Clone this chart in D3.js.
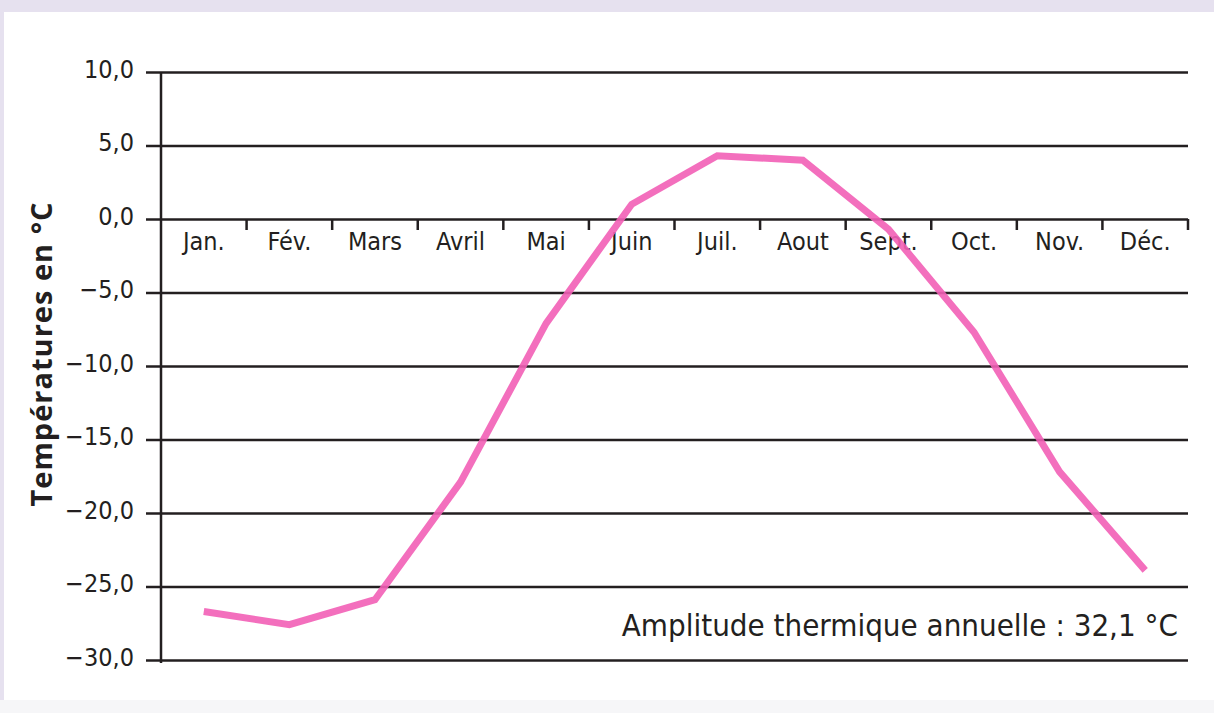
<!DOCTYPE html>
<html>
<head>
<meta charset="utf-8">
<script src="https://cdn.jsdelivr.net/npm/d3@7"></script>
<style>
  body { margin: 0; background: #e6e1ef; }
  svg { display: block; }
  .tick text { font-family: "DejaVu Sans Condensed", "Liberation Sans Narrow", sans-serif; fill: #231f20; }
</style>
</head>
<body>
<div id="chart"></div>
<script>
var months = ["Jan.", "Fév.", "Mars", "Avril", "Mai", "Juin", "Juil.", "Aout", "Sept.", "Oct.", "Nov.", "Déc."];
var temperatures = [-26.7, -27.6, -25.9, -17.9, -7.1, 1.0, 4.3, 4.0, -0.7, -7.7, -17.2, -23.9];
var yTicks = [10, 5, 0, -5, -10, -15, -20, -25, -30];
var amplitudeLabel = "Amplitude thermique annuelle : 32,1 °C";
var yTitle = "Températures en °C";

var width = 1214, height = 713;
var margin = {top: 72, right: 26, bottom: 53, left: 161};
var ink = "#231f20";
var font = '"DejaVu Sans Condensed", "Liberation Sans Narrow", sans-serif';

var svg = d3.select("#chart").append("svg")
  .attr("width", width)
  .attr("height", height);

// page strips: lavender frame, light strip at the bottom, white panel
svg.append("rect")
  .attr("x", 0).attr("y", 700)
  .attr("width", width).attr("height", 13)
  .attr("fill", "#f6f6f8");
svg.append("rect")
  .attr("x", 4).attr("y", 12)
  .attr("width", width - 4).attr("height", 688)
  .attr("fill", "#ffffff");

var x = d3.scaleBand()
  .domain(months)
  .range([margin.left, width - margin.right]);

var y = d3.scaleLinear()
  .domain([-30, 10])
  .range([height - margin.bottom, margin.top]);

var fmt = function (d) {
  return d3.format(".1f")(d).replace(".", ",").replace("-", "\u2212");
};

// horizontal grid lines with left ticks
var yAxis = svg.append("g")
  .attr("transform", "translate(" + margin.left + ",0)")
  .call(d3.axisLeft(y)
    .tickValues(yTicks)
    .tickSize(-(width - margin.left - margin.right))
    .tickPadding(27)
    .tickFormat(fmt));

yAxis.select(".domain").remove();
yAxis.selectAll(".tick line")
  .attr("x1", -15)
  .attr("stroke", ink)
  .attr("stroke-width", 2.5);
yAxis.selectAll(".tick text")
  .style("font-size", "25px")
  .attr("dy", "0.2em");

// vertical axis line
svg.append("line")
  .attr("x1", margin.left).attr("x2", margin.left)
  .attr("y1", y(10)).attr("y2", y(-30) + 3)
  .attr("stroke", ink)
  .attr("stroke-width", 2.5);

// month ticks hanging below the zero line
var boundaries = months.map(function (m) { return x(m) + x.bandwidth(); });
svg.append("g").selectAll("line")
  .data(boundaries)
  .join("line")
  .attr("x1", function (d) { return d; })
  .attr("x2", function (d) { return d; })
  .attr("y1", y(0))
  .attr("y2", y(0) + 11)
  .attr("stroke", ink)
  .attr("stroke-width", 2.5);

// month labels
svg.append("g").selectAll("text")
  .data(months)
  .join("text")
  .attr("x", function (d) { return x(d) + x.bandwidth() / 2; })
  .attr("y", y(0) + 31)
  .attr("text-anchor", "middle")
  .style("font-family", font)
  .style("font-size", "25px")
  .attr("fill", ink)
  .text(function (d) { return d; });

// temperature line
var line = d3.line()
  .x(function (d, i) { return x(months[i]) + x.bandwidth() / 2; })
  .y(function (d) { return y(d); });

svg.append("path")
  .datum(temperatures)
  .attr("d", line)
  .attr("fill", "none")
  .attr("stroke", "#f25fb6")
  .attr("stroke-opacity", 0.9)
  .attr("stroke-width", 7);

// annotation
svg.append("text")
  .attr("x", width - margin.right - 10)
  .attr("y", y(-28.35))
  .attr("text-anchor", "end")
  .style("font-family", font)
  .style("font-size", "31px")
  .attr("fill", ink)
  .text(amplitudeLabel);

// y title
svg.append("text")
  .attr("transform", "translate(52,354) rotate(-90)")
  .attr("text-anchor", "middle")
  .style("font-family", '"Open Sans", "Noto Sans", sans-serif')
  .style("font-weight", "bold")
  .style("font-size", "29px")
  .style("letter-spacing", "1px")
  .attr("fill", ink)
  .text(yTitle);
</script>
</body>
</html>
